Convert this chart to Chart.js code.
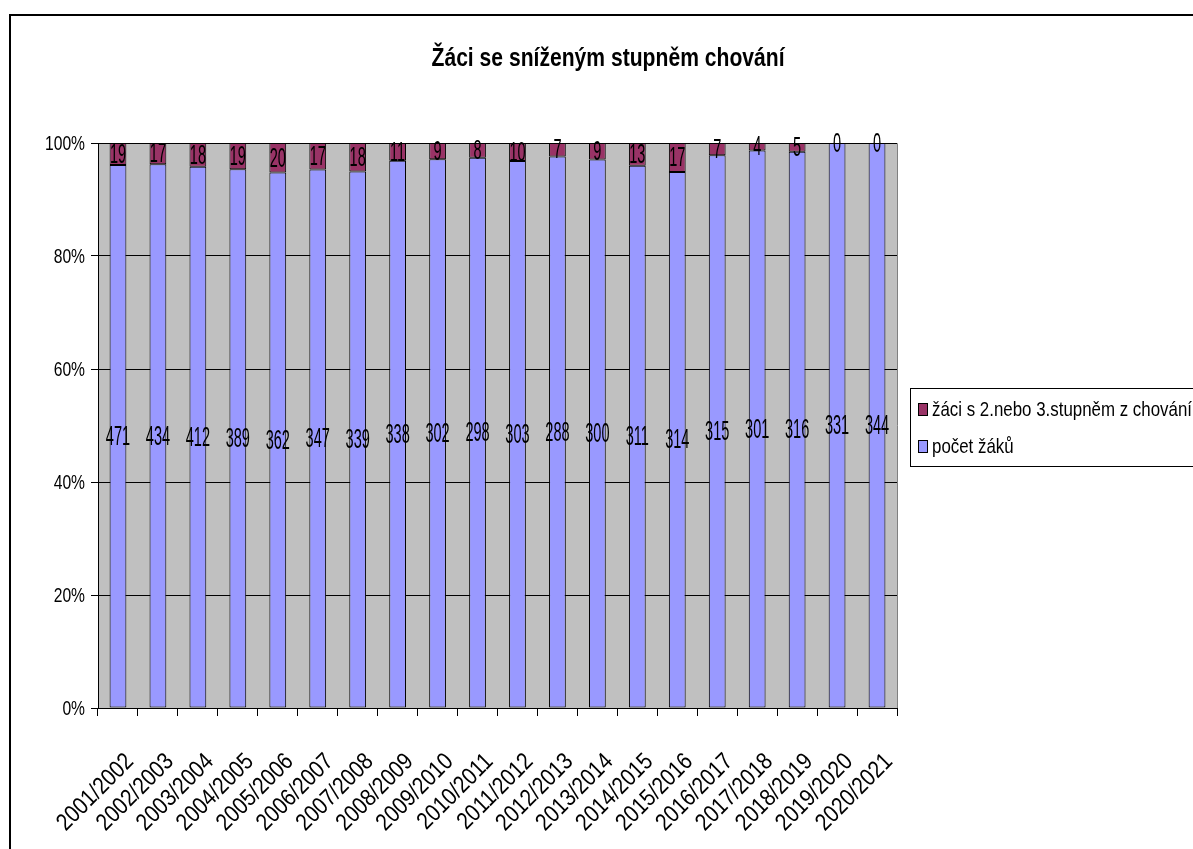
<!DOCTYPE html>
<html>
<head>
<meta charset="utf-8">
<script src="https://cdn.jsdelivr.net/npm/chart.js@4.4.1/dist/chart.umd.min.js"></script>
<style>
html,body{margin:0;padding:0;background:#fff;overflow:hidden;}
#wrap{position:relative;width:1193px;height:849px;}
#frame{position:absolute;left:9px;top:14px;width:1200px;height:900px;border:2px solid #000;box-sizing:border-box;pointer-events:none;}
canvas{position:absolute;left:0;top:0;}
</style>
</head>
<body>
<div id="wrap">
<canvas id="c" width="1193" height="849"></canvas>
<div id="frame"></div>
</div>
<script>
const categories = ["2001/2002","2002/2003","2003/2004","2004/2005","2005/2006","2006/2007","2007/2008","2008/2009","2009/2010","2010/2011","2011/2012","2012/2013","2013/2014","2014/2015","2015/2016","2016/2017","2017/2018","2018/2019","2019/2020","2020/2021"];
const pocetZaku = [471,434,412,389,362,347,339,338,302,298,303,288,300,311,314,315,301,316,331,344];
const zaciSnizeny = [19,17,18,19,20,17,18,11,9,8,10,7,9,13,17,7,4,5,0,0];
const seriesNames = ["počet žáků","žáci s 2.nebo 3.stupněm z chování"];
const yTicks = [0,20,40,60,80,100];
const titleText = "Žáci se sníženým stupněm chování";

const totals = pocetZaku.map((v,i)=>v+zaciSnizeny[i]);
const pct = arr => arr.map((v,i)=>v/totals[i]*100);

const FONT = '"Liberation Sans",Arial,sans-serif';

// draw horizontally condensed text (Arial Narrow look)
function narrowText(ctx, text, x, y, font, sx, align, baseline){
  ctx.save();
  ctx.font = font;
  ctx.textAlign = align || 'center';
  ctx.textBaseline = baseline || 'middle';
  ctx.translate(x, y);
  ctx.scale(sx, 1);
  ctx.fillText(text, 0, 0);
  ctx.restore();
}
function fitScale(ctx, text, font, width){
  ctx.save(); ctx.font = font; const w = ctx.measureText(text).width; ctx.restore();
  return width / w;
}

const drawPlugin = {
  id:'xlsLook',
  beforeDraw(chart){
    const {ctx, chartArea:a} = chart;
    ctx.save();
    ctx.fillStyle = '#C0C0C0';
    ctx.fillRect(a.left, a.top, a.right-a.left, a.bottom-a.top);
    ctx.strokeStyle = '#808080';
    ctx.lineWidth = 1;
    ctx.beginPath();
    ctx.moveTo(a.left, a.top+0.5); ctx.lineTo(a.right+0.5, a.top+0.5); ctx.lineTo(a.right+0.5, a.bottom);
    ctx.stroke();
    ctx.restore();
  },
  afterDatasetsDraw(chart){
    const ctx = chart.ctx;
    const raw = [pocetZaku, zaciSnizeny];
    chart.data.datasets.forEach((ds, di)=>{
      const meta = chart.getDatasetMeta(di);
      meta.data.forEach((bar, i)=>{
        const cy = (bar.y + bar.base)/2;
        ctx.fillStyle = '#000';
        narrowText(ctx, String(raw[di][i]), bar.x, cy+1, '28px ' + FONT, 0.52, 'center', 'middle');
      });
    });
  },
  afterDraw(chart){
    const ctx = chart.ctx;
    const xs = chart.scales.x, ys = chart.scales.y;
    ctx.save();
    ctx.fillStyle = '#000';
    // title
    const tf = 'bold 25px ' + FONT;
    narrowText(ctx, titleText, 608, 59, tf, fitScale(ctx, titleText, tf, 353), 'center', 'middle');
    // y tick labels
    const yf = '21px ' + FONT;
    const ysx = fitScale(ctx, '100%', yf, 40);
    yTicks.forEach(v=>{
      narrowText(ctx, v + '%', 85, ys.getPixelForValue(v)+1, yf, ysx, 'right', 'middle');
    });
    // x tick labels, rotated 45°
    categories.forEach((lab, i)=>{
      const px = xs.getPixelForValue(i);
      ctx.save();
      ctx.translate(px + 12, 758);
      ctx.rotate(-Math.PI/4);
      ctx.scale(0.86, 1);
      ctx.font = '24px ' + FONT;
      ctx.textAlign = 'right';
      ctx.textBaseline = 'middle';
      ctx.fillText(lab, 0, 0);
      ctx.restore();
    });
    // legend
    const lx = 910, ly = 388, lw = 290, lh = 78;
    ctx.fillStyle = '#fff';
    ctx.fillRect(lx, ly, lw, lh);
    ctx.strokeStyle = '#000';
    ctx.lineWidth = 1;
    ctx.strokeRect(lx+0.5, ly+0.5, lw, lh);
    const lf = '21px ' + FONT;
    const lsx = fitScale(ctx, seriesNames[1], lf, 260);
    const items = [
      {name: seriesNames[1], color: chart.data.datasets[1].backgroundColor, y: 409},
      {name: seriesNames[0], color: chart.data.datasets[0].backgroundColor, y: 446}
    ];
    items.forEach(it=>{
      ctx.fillStyle = it.color;
      ctx.fillRect(lx+8, it.y-6, 9, 12);
      ctx.strokeStyle = '#000';
      ctx.strokeRect(lx+8.5, it.y-5.5, 9, 12);
      ctx.fillStyle = '#000';
      narrowText(ctx, it.name, lx+22, it.y+1, lf, lsx, 'left', 'middle');
    });
    ctx.restore();
  }
};

new Chart(document.getElementById('c'), {
  type:'bar',
  data:{
    labels: categories,
    datasets:[
      {label: seriesNames[0], data: pct(pocetZaku), backgroundColor:'#9999FF', borderColor:'#000', borderWidth:1, borderSkipped:false, barPercentage:0.84, categoryPercentage:0.5},
      {label: seriesNames[1], data: pct(zaciSnizeny), backgroundColor:'#993366', borderColor:'#000', borderWidth:1, borderSkipped:false, barPercentage:0.84, categoryPercentage:0.5}
    ]
  },
  options:{
    responsive:false,
    animation:false,
    devicePixelRatio:1,
    layout:{padding:{top:143,right:296,left:0,bottom:0}},
    plugins:{legend:{display:false}, title:{display:false}, tooltip:{enabled:false}},
    scales:{
      x:{
        stacked:true,
        grid:{display:true, drawOnChartArea:false, drawTicks:true, tickLength:8, color:'#000', offset:true},
        border:{color:'#000', width:1},
        ticks:{color:'rgba(0,0,0,0)', font:{family:FONT, size:12}, maxRotation:0, minRotation:0, autoSkip:false},
        afterFit(s){ s.height = 141; }
      },
      y:{
        stacked:true,
        min:0, max:100,
        afterBuildTicks(s){ s.ticks = yTicks.map(v=>({value:v})); },
        grid:{color:'#000', lineWidth:1, tickLength:7, drawTicks:true},
        border:{color:'#000', width:1},
        ticks:{color:'rgba(0,0,0,0)', font:{family:FONT, size:12}, callback:v=>v+'%'},
        afterFit(s){ s.width = 98; }
      }
    }
  },
  plugins:[drawPlugin]
});
</script>
</body>
</html>
